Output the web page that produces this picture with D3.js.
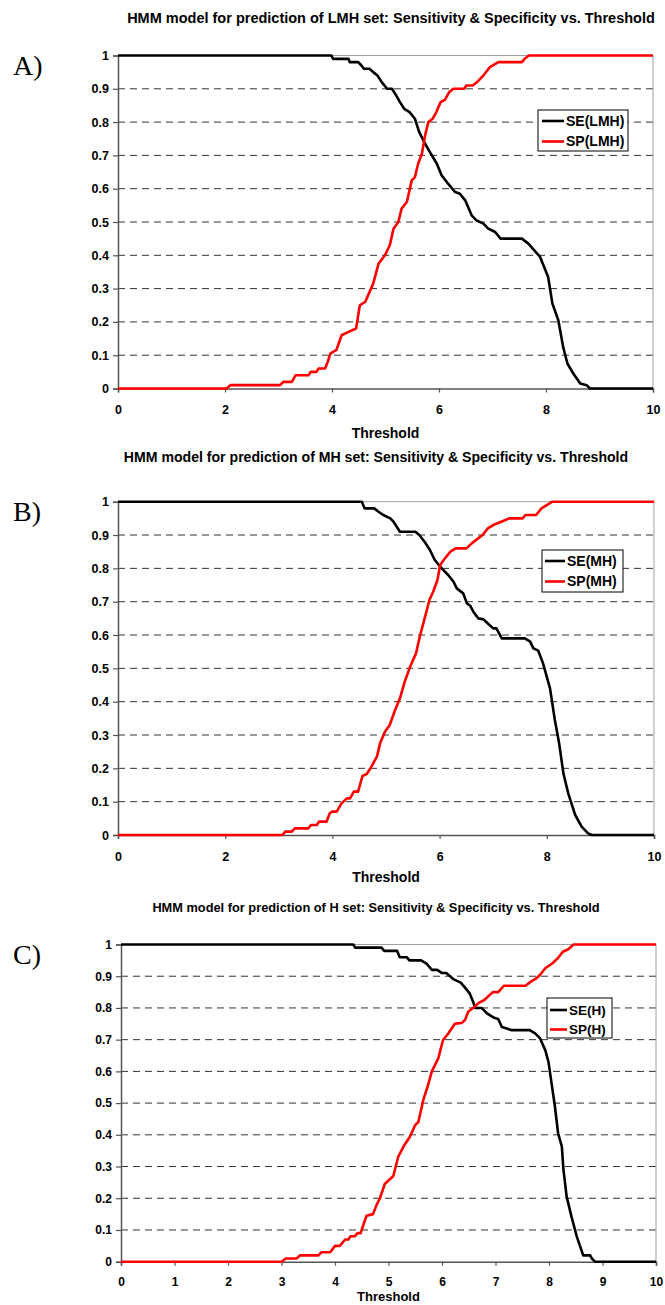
<!DOCTYPE html>
<html>
<head>
<meta charset="utf-8">
<script src="https://cdn.jsdelivr.net/npm/d3@7"></script>
<style>
  body { margin: 0; background: #fff; }
  svg text { font-family: "Liberation Sans", Arial, sans-serif; font-weight: bold; fill: #000; }
  .letter { font-family: "Liberation Serif", "Times New Roman", serif !important; font-weight: normal !important; }
</style>
</head>
<body>
<svg id="fig" width="665" height="1305"></svg>
<script>
// tick values
var xTicksAB = [0, 2, 4, 6, 8, 10];
var xTicksC = [0, 1, 2, 3, 4, 5, 6, 7, 8, 9, 10];
var yTicks = [0, 0.1, 0.2, 0.3, 0.4, 0.5, 0.6, 0.7, 0.8, 0.9, 1];

var titles = [
  "HMM model for prediction of LMH set: Sensitivity & Specificity vs. Threshold",
  "HMM model for prediction of MH set: Sensitivity & Specificity vs. Threshold",
  "HMM model for prediction of H set: Sensitivity & Specificity vs. Threshold"
];
var letters = ["A)", "B)", "C)"];
var seriesNames = [["SE(LMH)", "SP(LMH)"], ["SE(MH)", "SP(MH)"], ["SE(H)", "SP(H)"]];

// [threshold, value]
var seLMH = [[0,1],[3.99,1],[4.02,0.99],[4.31,0.99],[4.33,0.98],[4.49,0.98],[4.55,0.97],[4.6,0.96],[4.7,0.96],
  [4.77,0.95],[4.85,0.94],[4.93,0.92],[5.03,0.9],[5.12,0.9],[5.2,0.88],[5.27,0.86],[5.35,0.84],[5.45,0.83],
  [5.55,0.81],[5.63,0.77],[5.74,0.735],[5.83,0.71],[5.96,0.675],[6.05,0.64],[6.17,0.615],[6.3,0.59],[6.39,0.585],
  [6.49,0.565],[6.61,0.52],[6.7,0.505],[6.83,0.495],[6.92,0.48],[7.05,0.47],[7.15,0.45],[7.55,0.45],[7.67,0.435],
  [7.89,0.395],[8.04,0.335],[8.12,0.255],[8.23,0.205],[8.32,0.125],[8.4,0.075],[8.51,0.045],[8.64,0.015],
  [8.76,0.01],[8.82,0],[10,0]];
var spLMH = [[0,0],[2.03,0],[2.1,0.01],[3.03,0.01],[3.09,0.02],[3.25,0.02],[3.32,0.04],[3.56,0.04],[3.6,0.05],
  [3.71,0.05],[3.75,0.06],[3.87,0.06],[3.92,0.08],[3.97,0.105],[4.02,0.11],[4.08,0.115],[4.18,0.16],[4.31,0.17],
  [4.45,0.18],[4.52,0.25],[4.62,0.26],[4.77,0.315],[4.87,0.375],[4.99,0.4],[5.08,0.43],[5.15,0.48],[5.24,0.5],
  [5.3,0.54],[5.4,0.56],[5.49,0.625],[5.55,0.635],[5.61,0.675],[5.68,0.705],[5.74,0.76],[5.8,0.8],[5.88,0.81],
  [5.95,0.83],[6.03,0.86],[6.11,0.867],[6.19,0.89],[6.27,0.9],[6.47,0.9],[6.51,0.91],[6.63,0.91],[6.71,0.92],
  [6.83,0.94],[6.95,0.965],[7.11,0.98],[7.55,0.98],[7.6,0.99],[7.68,1],[10,1]];

var seMH = [[0,1],[4.55,1],[4.6,0.98],[4.78,0.98],[4.86,0.97],[4.95,0.96],[5.08,0.95],[5.14,0.94],[5.26,0.91],
  [5.55,0.91],[5.62,0.9],[5.72,0.88],[5.82,0.855],[5.91,0.825],[6.04,0.8],[6.16,0.78],[6.26,0.76],[6.32,0.74],
  [6.44,0.725],[6.51,0.695],[6.57,0.688],[6.63,0.67],[6.72,0.65],[6.82,0.647],[6.91,0.633],[7,0.62],[7.06,0.62],
  [7.16,0.59],[7.59,0.59],[7.69,0.58],[7.75,0.56],[7.84,0.553],[7.93,0.515],[8.06,0.44],[8.15,0.345],[8.23,0.275],
  [8.31,0.185],[8.4,0.125],[8.53,0.06],[8.65,0.025],[8.77,0.005],[8.84,0],[10,0]];
var spMH = [[0,0],[3.07,0],[3.12,0.01],[3.24,0.01],[3.3,0.02],[3.55,0.02],[3.6,0.03],[3.71,0.03],[3.75,0.04],
  [3.89,0.04],[3.95,0.065],[3.99,0.07],[4.08,0.07],[4.17,0.095],[4.27,0.11],[4.33,0.11],[4.4,0.13],[4.48,0.13],
  [4.56,0.177],[4.64,0.183],[4.71,0.2],[4.83,0.235],[4.89,0.275],[4.98,0.31],[5.07,0.33],[5.17,0.375],[5.26,0.41],
  [5.35,0.46],[5.45,0.505],[5.56,0.545],[5.63,0.595],[5.73,0.655],[5.81,0.705],[5.88,0.73],[5.96,0.765],[6.01,0.81],
  [6.1,0.83],[6.2,0.85],[6.3,0.86],[6.5,0.86],[6.6,0.875],[6.8,0.9],[6.9,0.92],[7,0.93],[7.15,0.94],[7.3,0.95],
  [7.55,0.95],[7.6,0.96],[7.8,0.96],[7.9,0.98],[8,0.99],[8.1,1],[10,1]];

var seH = [[0,1],[4.34,1],[4.38,0.99],[4.87,0.99],[4.92,0.98],[5.16,0.98],[5.21,0.96],[5.34,0.96],[5.39,0.95],
  [5.61,0.95],[5.71,0.94],[5.81,0.92],[5.91,0.92],[6,0.91],[6.08,0.91],[6.22,0.89],[6.35,0.88],[6.45,0.86],
  [6.52,0.845],[6.58,0.82],[6.62,0.8],[6.74,0.8],[6.84,0.783],[6.96,0.77],[7.05,0.765],[7.12,0.74],[7.21,0.735],
  [7.3,0.73],[7.64,0.73],[7.74,0.72],[7.83,0.705],[7.93,0.667],[7.99,0.63],[8.05,0.56],[8.11,0.49],[8.17,0.405],
  [8.24,0.363],[8.27,0.29],[8.33,0.205],[8.42,0.142],[8.52,0.079],[8.64,0.02],[8.77,0.02],[8.8,0.01],[8.86,0],[10,0]];
var spH = [[0,0],[3,0],[3.08,0.01],[3.28,0.01],[3.35,0.02],[3.69,0.02],[3.75,0.03],[3.91,0.03],[4,0.05],[4.09,0.05],
  [4.19,0.07],[4.25,0.07],[4.29,0.08],[4.37,0.08],[4.42,0.09],[4.48,0.09],[4.53,0.116],[4.59,0.145],[4.71,0.15],
  [4.78,0.18],[4.84,0.2],[4.93,0.245],[5.09,0.27],[5.18,0.33],[5.28,0.363],[5.4,0.394],[5.5,0.431],[5.56,0.441],
  [5.65,0.51],[5.74,0.557],[5.81,0.6],[5.93,0.641],[6.02,0.699],[6.12,0.72],[6.24,0.75],[6.37,0.753],[6.43,0.762],
  [6.49,0.788],[6.58,0.8],[6.68,0.815],[6.79,0.825],[6.95,0.85],[7.05,0.85],[7.16,0.87],[7.56,0.87],[7.66,0.883],
  [7.76,0.893],[7.83,0.904],[7.93,0.925],[8.06,0.94],[8.16,0.956],[8.26,0.977],[8.36,0.985],[8.46,1],[10,1]];

var svg = d3.select("#fig");

// layout of each of the three panels
var panels = [
  { se: seLMH, sp: spLMH, xTicks: xTicksAB,
    l: 118, r: 653, t: 55.5, b: 388.5,
    titleX: 391, titleY: 18, titleSize: 14.5, tickY: 410, axisY: 433, tickSize: 12.5, axisSize: 14,
    letterY: 75, leg: { x: 538, y: 110, w: 90, h: 41, row1: 121, row2: 141.5, s0: 542, s1: 564, tx: 566, size: 14 } },
  { se: seMH, sp: spMH, xTicks: xTicksAB,
    l: 118, r: 654, t: 501.7, b: 835,
    titleX: 376, titleY: 457, titleSize: 14.1, tickY: 857, axisY: 877, tickSize: 12.5, axisSize: 14,
    letterY: 521, leg: { x: 542, y: 550, w: 81, h: 42, row1: 561, row2: 581.5, s0: 545, s1: 565, tx: 567, size: 14 } },
  { se: seH, sp: spH, xTicks: xTicksC,
    l: 121, r: 656, t: 944.5, b: 1261.7,
    titleX: 376, titleY: 908, titleSize: 12.8, tickY: 1282, axisY: 1296, tickSize: 12, axisSize: 13,
    letterY: 964, leg: { x: 547, y: 998, w: 65, h: 40, row1: 1010, row2: 1029.5, s0: 550, s1: 567, tx: 569, size: 13.5 } }
];

var yFmt = function(d) { return (d === 0 || d === 1) ? String(d) : d.toFixed(1); };

panels.forEach(function(p, k) {
  var g = svg.append("g");
  var x = d3.scaleLinear().domain([0, 10]).range([p.l, p.r]);
  var y = d3.scaleLinear().domain([0, 1]).range([p.b, p.t]);

  // title and panel letter
  g.append("text").attr("x", p.titleX).attr("y", p.titleY).attr("dy", "0.35em")
    .attr("text-anchor", "middle").style("font-size", p.titleSize + "px").text(titles[k]);
  g.append("text").attr("class", "letter").attr("x", 13).attr("y", p.letterY)
    .style("font-size", "28px").text(letters[k]);

  // dashed gridlines
  g.selectAll(".grid").data(yTicks.filter(function(d) { return d > 0 && d < 1; }))
    .enter().append("line")
    .attr("x1", p.l).attr("x2", p.r)
    .attr("y1", function(d) { return y(d); }).attr("y2", function(d) { return y(d); })
    .attr("stroke", "#333").attr("stroke-width", 1).attr("stroke-dasharray", "7,5");

  // plot area frame (top and right) in light gray
  g.append("line").attr("x1", p.l).attr("x2", p.r).attr("y1", y(1)).attr("y2", y(1))
    .attr("stroke", "#a0a0a0").attr("stroke-width", 1);
  g.append("line").attr("x1", p.r).attr("x2", p.r).attr("y1", y(1)).attr("y2", y(0))
    .attr("stroke", "#a0a0a0").attr("stroke-width", 1);

  // axes
  var yAxis = g.append("g").attr("transform", "translate(" + p.l + ",0)")
    .call(d3.axisLeft(y).tickValues(yTicks).tickFormat(yFmt).tickSize(5).tickPadding(4));
  var xAxis = g.append("g").attr("transform", "translate(0," + p.b + ")")
    .call(d3.axisBottom(x).tickValues(p.xTicks).tickFormat(d3.format("d")).tickSize(4));
  [yAxis, xAxis].forEach(function(a) {
    a.select(".domain").attr("stroke", "#555").attr("stroke-width", 1.5);
    a.selectAll(".tick line").attr("stroke", "#555").attr("stroke-width", 1.2);
    a.selectAll("text").style("font-size", p.tickSize + "px")
      .style("font-family", "'Liberation Sans', Arial, sans-serif").style("font-weight", "bold").attr("fill", "#000");
  });
  xAxis.selectAll(".tick text").attr("y", p.tickY - p.b).attr("dy", "0.35em");

  g.append("text").attr("x", (p.l + p.r) / 2).attr("y", p.axisY).attr("dy", "0.35em")
    .attr("text-anchor", "middle").style("font-size", p.axisSize + "px").text("Threshold");

  // curves
  var line = d3.line().x(function(d) { return x(d[0]); }).y(function(d) { return y(d[1]); });
  g.append("path").datum(p.se).attr("d", line).attr("fill", "none")
    .attr("stroke", "#000").attr("stroke-width", 2.6).attr("stroke-linejoin", "round");
  g.append("path").datum(p.sp).attr("d", line).attr("fill", "none")
    .attr("stroke", "#ff0000").attr("stroke-width", 2.6).attr("stroke-linejoin", "round");

  // legend
  var L = p.leg;
  g.append("rect").attr("x", L.x).attr("y", L.y).attr("width", L.w).attr("height", L.h)
    .attr("fill", "#fff").attr("stroke", "#000").attr("stroke-width", 1);
  [[L.row1, "#000"], [L.row2, "#ff0000"]].forEach(function(row, i) {
    g.append("line").attr("x1", L.s0).attr("x2", L.s1).attr("y1", row[0]).attr("y2", row[0])
      .attr("stroke", row[1]).attr("stroke-width", 2.6);
    g.append("text").attr("x", L.tx).attr("y", row[0]).attr("dy", "0.35em")
      .style("font-size", L.size + "px").text(seriesNames[k][i]);
  });
});
</script>
</body>
</html>
